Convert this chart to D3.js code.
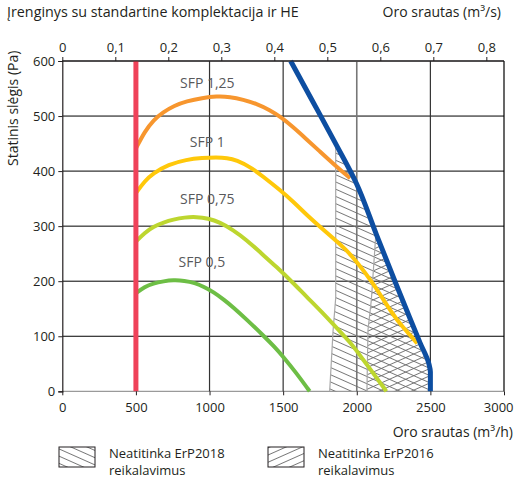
<!DOCTYPE html>
<html><head><meta charset="utf-8">
<script src="https://cdn.jsdelivr.net/npm/d3@7"></script>
<style>
body{margin:0;background:#fff;}
svg{font-family:"Open Sans",sans-serif;}
</style></head>
<body><svg id="c" width="515" height="481"></svg>
<script>
// ---- data ----
const flowTicks = [0,500,1000,1500,2000,2500,3000];
const pressureTicks = [0,100,200,300,400,500,600];
const topTicks = [0,0.1,0.2,0.3,0.4,0.5,0.6,0.7,0.8];
const sfpLabels = ["SFP 1,25","SFP 1","SFP 0,75","SFP 0,5"];
const sfpLabelAt = [[985,551],[985,444],[985,340],[948,226]];
const sfp125 = [[500,441],[560,472],[620,493],[685,507],[760,519],[844,527],[950,533],[1048,536],[1140,535],[1228,530],[1320,522],[1409,511],[1490,497],[1567,480],[1650,460],[1748,436],[1850,411],[1955,387]];
const sfp100 = [[500,360],[560,382],[617,396],[720,412],[844,421],[950,424],[1048,425],[1120,424],[1183,420],[1280,407],[1364,390],[1477,366],[1567,345],[1650,323],[1750,299],[1840,278],[1929,257],[2010,232],[2100,200],[2170,171],[2245,140],[2310,117],[2370,100],[2410,87]];
const sfp075 = [[500,272],[560,288],[617,299],[690,307],[753,312],[830,316],[912,317],[990,314],[1070,307],[1160,293],[1251,275],[1350,251],[1455,226],[1560,199],[1658,172],[1760,145],[1877,111],[1960,88],[2042,58],[2120,30],[2201,0]];
const sfp050 = [[500,178],[560,190],[617,196],[690,200],[753,202],[830,201],[900,197],[960,190],[1030,180],[1100,166],[1160,153],[1250,131],[1374,99],[1440,81],[1500,63],[1590,33],[1680,0]];
const maxCurve = [[1551,600],[1700,527],[1850,453],[1997,378],[2133,285],[2268,194],[2350,140],[2430,88],[2490,50],[2500,35],[2500,0]];
const erp2018Edge = [[1816,0],[1839,110],[1857,170],[1857,452]];
const erp2016Edge = [[2069,0],[2076,111],[2099,166],[2130,287]];
const redFlow = 500;
const legendLabels = [["Neatitinka ErP2018","reikalavimus"],["Neatitinka ErP2016","reikalavimus"]];

// ---- layout ----
const svg = d3.select("#c");
const x = d3.scaleLinear().domain([0,3000]).range([62.3,504]);
const y = d3.scaleLinear().domain([0,600]).range([391.3,61]);
const xTop = d3.scaleLinear().domain([0,3000/3600]).range([62.3,504]);
const dark = "#231f20";

const defs = svg.append("defs");
function hatch(id, ang){
  const p = defs.append("pattern").attr("id",id).attr("patternUnits","userSpaceOnUse")
    .attr("width",12).attr("height",6.6).attr("patternTransform",`rotate(${ang})`);
  p.append("line").attr("x1",-1).attr("x2",13).attr("y1",3.3).attr("y2",3.3)
    .attr("stroke","#6d6d6d").attr("stroke-width",0.9);
}
hatch("h18",24); hatch("h16",-24);

// grid
const g = svg.append("g");
g.selectAll(".hg").data(pressureTicks.filter(d=>d>0)).join("line")
  .attr("x1",x(0)).attr("x2",x(3000)).attr("y1",d=>y(d)).attr("y2",d=>y(d))
  .attr("stroke","#000").attr("stroke-width",1);
g.append("line").attr("x1",x(0)).attr("x2",x(3000)).attr("y1",y(0)).attr("y2",y(0))
  .attr("stroke","#9a9a9a").attr("stroke-width",1.2);
g.selectAll(".vg").data(flowTicks.filter(d=>d>500)).join("line")
  .attr("x1",d=>x(d)).attr("x2",d=>x(d)).attr("y1",y(0)).attr("y2",y(600))
  .attr("stroke",d=>d===2000?"#777":(d===3000?"#000":"#333")).attr("stroke-width",d=>d===2000?1.6:1.2);

// hatched regions
const line = d3.line().x(d=>x(d[0])).y(d=>y(d[1]));
const curve = d3.line().x(d=>x(d[0])).y(d=>y(d[1])).curve(d3.curveBasis);
function region(edge, pat){
  const top = edge[edge.length-1][0];
  const pts = edge.concat(maxCurve.filter(d=>d[0]>top));
  svg.append("path").attr("d",line(pts)+"Z").attr("fill",`url(#${pat})`);
  svg.append("path").attr("d",line(edge)).attr("fill","none").attr("stroke","#a8a8a8").attr("stroke-width",1.2);
}
region(erp2018Edge,"h18");
region(erp2016Edge,"h16");

// SFP curves
const series = [[sfp050,"#6dbe45"],[sfp075,"#bdd62f"],[sfp100,"#ffc80a"],[sfp125,"#f7962e"]];
series.forEach(([data,col])=>{
  svg.append("path").attr("d",curve(data)).attr("fill","none").attr("stroke",col).attr("stroke-width",4);
});
svg.append("path").attr("d",d3.line().x(d=>x(d[0])).y(d=>y(d[1])).curve(d3.curveMonotoneY)(maxCurve))
  .attr("fill","none").attr("stroke","#0d4ea1").attr("stroke-width",5).attr("stroke-linejoin","round");
svg.append("line").attr("x1",x(redFlow)).attr("x2",x(redFlow)).attr("y1",y(0)).attr("y2",y(600))
  .attr("stroke","#ef4259").attr("stroke-width",5);

// SFP labels
svg.selectAll(".sl").data(sfpLabels).join("text")
  .attr("x",(d,i)=>x(sfpLabelAt[i][0])).attr("y",(d,i)=>y(sfpLabelAt[i][1]))
  .attr("text-anchor","middle").attr("font-size",14).attr("fill","#58595b").text(d=>d);

// axes
const fmt = d=>String(d).replace(".",",");
const ax = svg.append("g").attr("transform",`translate(${x(0)},0)`)
  .call(d3.axisLeft(y).tickValues(pressureTicks).tickSize(4).tickPadding(3));
const axb = svg.append("g").attr("transform",`translate(0,${y(0)})`)
  .call(d3.axisBottom(x).tickValues(flowTicks).tickFormat(d3.format("d")).tickSize(4).tickPadding(7));
const axt = svg.append("g").attr("transform",`translate(0,${y(600)})`)
  .call(d3.axisTop(xTop).tickValues(topTicks).tickFormat(fmt).tickSize(4).tickPadding(5));
[ax,axb,axt].forEach(a=>{
  a.selectAll("text").attr("font-size",13).attr("fill",dark).attr("font-family","Open Sans, sans-serif");
  a.selectAll("line").attr("stroke",dark);
  a.select(".domain").attr("stroke",dark).attr("stroke-width",1.2);
});
axb.select(".domain").remove();
axb.selectAll(".tick text").filter(d=>d===3000).attr("text-anchor","end").attr("dx",9);
axt.select(".domain").attr("d",`M${x(0)},0H${x(3000)}`);

// titles
svg.append("text").attr("x",7).attr("y",17).attr("font-size",14.3).attr("fill",dark).text("Įrenginys su standartine komplektacija ir HE");
svg.append("text").attr("x",501).attr("y",17).attr("font-size",14).attr("fill",dark).attr("text-anchor","end").text("Oro srautas (m³/s)");
svg.append("text").attr("x",513).attr("y",437).attr("font-size",14).attr("fill",dark).attr("text-anchor","end").text("Oro srautas (m³/h)");
svg.append("text").attr("transform","translate(18,166) rotate(-90)").attr("font-size",14).attr("fill",dark).text("Statinis slėgis (Pa)");

// legend
const legX = [59,268];
["h18","h16"].forEach((p,i)=>{
  svg.append("rect").attr("x",legX[i]).attr("y",447).attr("width",36).attr("height",20)
    .attr("fill",`url(#${p})`).attr("stroke",dark).attr("stroke-width",1);
  svg.append("text").attr("x",legX[i]+50).attr("y",458).attr("font-size",13).attr("fill",dark).text(legendLabels[i][0]);
  svg.append("text").attr("x",legX[i]+50).attr("y",475).attr("font-size",13).attr("fill",dark).text(legendLabels[i][1]);
});
</script></body></html>
